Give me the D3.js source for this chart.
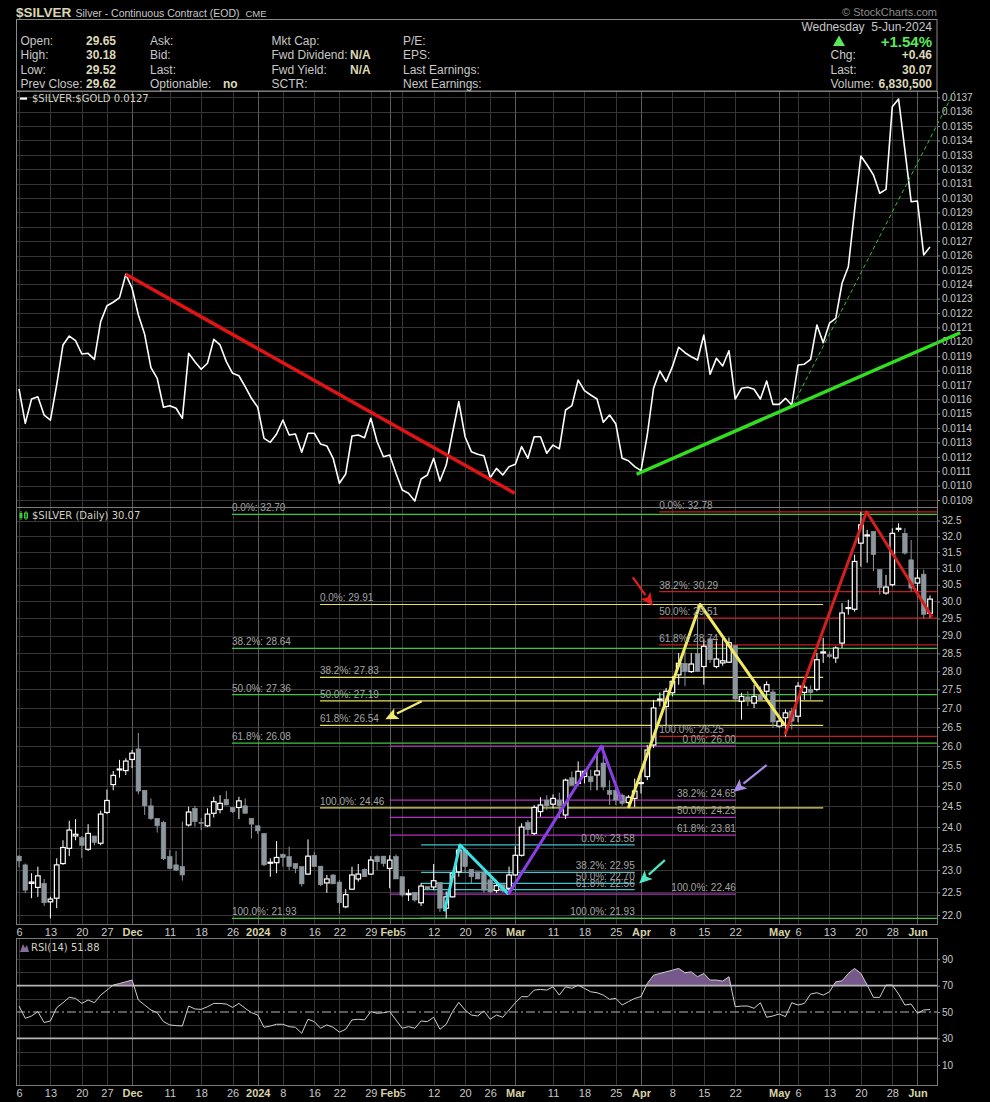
<!DOCTYPE html>
<html>
<head>
<meta charset="utf-8">
<title>$SILVER</title>
<script src="https://cdn.jsdelivr.net/npm/d3@7/dist/d3.min.js"></script>
<style>
  body { margin: 0; background: #000; }
  svg { display: block; }
</style>
</head>
<body>
<svg id="chart" width="990" height="1102"></svg>
<script>
// trading days, Nov 6 2023 .. Jun 5 2024
const monthDays = [
  ["2023-11", [6,7,8,9,10,13,14,15,16,17,20,21,22,24,27,28,29,30]],
  ["2023-12", [1,4,5,6,7,8,11,12,13,14,15,18,19,20,21,22,26,27,28,29]],
  ["2024-01", [2,3,4,5,8,9,10,11,12,16,17,18,19,22,23,24,25,26,29,30,31]],
  ["2024-02", [1,2,5,6,7,8,9,12,13,14,15,16,20,21,22,23,26,27,28,29]],
  ["2024-03", [1,4,5,6,7,8,11,12,13,14,15,18,19,20,21,22,25,26,27,28]],
  ["2024-04", [1,2,3,4,5,8,9,10,11,12,15,16,17,18,19,22,23,24,25,26,29,30]],
  ["2024-05", [1,2,3,6,7,8,9,10,13,14,15,16,17,20,21,22,23,24,28,29,30,31]],
  ["2024-06", [3,4,5]]
];
const dates = monthDays.flatMap(([m, ds]) => ds.map(d => m + "-" + String(d).padStart(2, "0")));

const tickDates = ["2023-11-06","2023-11-13","2023-11-20","2023-11-27","2023-12-01","2023-12-11","2023-12-18","2023-12-26",
  "2024-01-02","2024-01-08","2024-01-16","2024-01-22","2024-01-29","2024-02-01","2024-02-05","2024-02-12","2024-02-20",
  "2024-02-26","2024-03-01","2024-03-11","2024-03-18","2024-03-25","2024-04-01","2024-04-08","2024-04-15","2024-04-22",
  "2024-05-01","2024-05-06","2024-05-13","2024-05-20","2024-05-28","2024-06-03"];
const tickLabels = ["6","13","20","27","Dec","11","18","26","2024","8","16","22","29","Feb","5","12","20","26",
  "Mar","11","18","25","Apr","8","15","22","May","6","13","20","28","Jun"];

// $SILVER:$GOLD ratio
const ratio = [
  0.011672,0.011433,0.011602,0.011618,0.011491,0.011456,0.011700,0.011978,0.012040,0.012008,
  0.011915,0.011920,0.011878,0.012140,0.012251,0.012275,0.012307,0.012469,0.012372,0.012186,
  0.012052,0.011820,0.011746,0.011545,0.011556,0.011538,0.011468,0.011920,0.011862,0.011809,
  0.011851,0.012017,0.011978,0.011862,0.011781,0.011764,0.011688,0.011607,0.011545,0.011329,
  0.011301,0.011359,0.011456,0.011352,0.011359,0.011232,0.011364,0.011364,0.011289,0.011276,
  0.011190,0.011016,0.011081,0.011345,0.011352,0.011333,0.011468,0.011305,0.011201,0.011213,
  0.011086,0.010970,0.010947,0.010893,0.011046,0.011074,0.011190,0.011032,0.011143,0.011366,
  0.011584,0.011340,0.011236,0.011218,0.011208,0.011055,0.011120,0.011074,0.011132,0.011148,
  0.011271,0.011190,0.011340,0.011340,0.011225,0.011282,0.011255,0.011526,0.011556,0.011734,
  0.011660,0.011630,0.011602,0.011440,0.011491,0.011428,0.011190,0.011173,0.011132,0.011104,
  0.011352,0.011677,0.011797,0.011723,0.011827,0.011962,0.011924,0.011896,0.011873,0.012047,
  0.011774,0.011885,0.011832,0.011938,0.011602,0.011677,0.011684,0.011670,0.011602,0.011727,
  0.011565,0.011565,0.011607,0.011561,0.011839,0.011844,0.011878,0.012117,0.011994,0.012129,
  0.012163,0.012407,0.012522,0.012916,0.013292,0.013229,0.013160,0.013033,0.013060,0.013635,
  0.013688,0.013334,0.012974,0.012979,0.012604,0.012660
];

// $SILVER daily OHLC
const open = [
  23.32,23.12,22.70,22.61,22.70,22.29,22.37,23.15,23.50,23.79,
  23.75,23.48,23.79,23.62,24.35,25.03,25.40,25.38,25.66,25.93,
  24.89,24.51,24.21,24.11,23.31,23.12,23.08,24.05,24.45,24.11,
  24.03,24.33,24.42,24.67,24.47,24.47,24.51,24.21,24.03,23.85,
  23.16,23.17,23.36,23.31,23.15,23.08,22.91,23.34,23.09,22.71,
  22.89,22.73,22.18,22.57,22.80,23.02,22.91,23.31,23.32,23.04,
  23.31,22.85,22.45,22.50,22.27,22.63,22.62,22.72,22.15,22.40,
  22.96,23.46,23.02,22.96,22.96,22.78,22.54,22.67,22.59,22.89,
  23.34,24.11,23.85,24.37,24.65,24.55,24.65,24.29,25.20,25.06,
  25.23,25.23,25.27,25.57,24.89,24.89,24.77,24.59,24.69,25.06,
  25.23,26.03,27.22,27.04,27.41,27.90,28.22,27.99,28.49,28.13,
  28.91,28.13,28.23,28.25,28.72,27.18,27.30,27.13,27.36,27.45,
  27.43,26.52,26.74,26.92,26.78,27.42,27.50,27.50,28.51,28.46,
  28.37,28.79,29.79,29.77,31.78,32.01,32.15,30.96,30.25,30.50,
  32.23,32.09,31.26,30.55,30.82,29.65
];
const high = [
  23.34,23.15,22.93,23.08,22.80,22.40,23.27,23.69,24.15,24.19,
  23.79,24.07,23.79,24.39,24.91,25.37,25.65,25.69,25.90,26.34,
  24.89,24.69,24.21,24.15,23.46,23.44,24.13,24.49,24.51,24.21,
  24.45,24.73,24.77,24.87,24.47,24.73,24.69,24.21,24.03,23.85,
  23.27,23.67,23.38,23.54,23.15,23.08,23.71,23.42,23.09,22.89,
  22.91,22.78,22.57,23.08,23.14,23.04,23.32,23.34,23.32,23.34,
  23.36,22.85,22.57,22.50,22.71,22.63,23.14,22.72,22.52,22.96,
  23.58,23.46,23.02,22.96,22.96,22.93,22.78,22.67,23.08,23.55,
  24.09,24.17,24.53,24.72,24.77,24.79,24.83,25.18,25.36,25.61,
  25.40,25.40,25.86,26.00,25.14,24.97,24.81,24.77,25.18,25.27,
  26.03,27.22,27.42,27.54,27.86,28.51,28.55,28.51,29.91,28.89,
  28.91,28.84,28.91,28.95,28.72,27.41,27.45,27.63,27.59,27.72,
  27.50,26.80,26.96,27.01,27.70,27.69,27.61,28.51,28.94,28.55,
  28.70,29.95,30.05,31.42,32.78,32.20,32.15,30.96,30.80,32.25,
  32.41,32.25,31.88,30.96,30.96,30.18
];
const low = [
  23.06,22.48,22.37,22.40,22.20,21.93,22.15,23.12,23.32,23.69,
  23.28,23.44,23.57,23.57,24.31,24.89,25.20,25.27,25.44,24.79,
  24.29,24.17,23.87,23.23,23.02,22.98,22.76,24.01,24.01,23.93,
  24.00,24.23,24.33,24.53,24.34,24.19,24.33,23.73,23.84,23.09,
  22.85,22.93,23.08,23.00,22.93,22.63,22.89,23.08,22.64,22.49,
  22.69,22.04,22.15,22.55,22.74,22.85,22.89,23.00,23.08,22.59,
  22.80,22.40,22.31,22.29,22.20,22.55,22.55,22.07,21.93,22.39,
  22.85,22.96,22.71,22.80,22.49,22.48,22.49,22.50,22.46,22.87,
  23.31,23.81,23.81,24.25,24.41,24.45,24.21,24.19,25.01,25.01,
  25.06,24.89,24.89,24.89,24.53,24.53,24.51,24.46,24.48,24.81,
  25.14,25.95,27.04,26.52,27.31,27.63,27.59,27.95,27.98,27.63,
  28.23,28.08,28.15,28.23,27.22,26.69,27.05,27.00,27.22,27.22,
  26.47,26.48,26.25,26.43,26.62,27.22,27.22,27.45,28.23,28.37,
  28.23,28.65,29.61,29.70,31.05,31.17,30.91,30.20,30.20,30.45,
  32.14,31.42,30.30,30.15,29.51,29.52
];
const close = [
  23.21,22.55,22.73,22.87,22.27,22.35,23.12,23.52,23.93,23.83,
  23.57,23.85,23.64,24.31,24.64,25.26,25.42,25.62,25.82,24.87,
  24.51,24.20,24.03,23.26,23.04,23.00,22.89,24.36,24.13,24.09,
  24.31,24.61,24.57,24.53,24.37,24.63,24.33,24.07,23.91,23.12,
  23.18,23.29,23.29,23.08,23.04,22.69,23.32,23.08,22.67,22.80,
  22.69,22.27,22.45,22.89,22.91,22.85,23.23,23.19,23.15,23.23,
  22.80,22.44,22.47,22.33,22.64,22.57,22.76,22.15,22.40,22.93,
  23.46,23.08,22.85,22.80,22.55,22.51,22.65,22.53,22.89,23.34,
  24.00,23.94,24.47,24.53,24.51,24.69,24.51,25.14,25.01,25.36,
  25.36,25.10,25.37,24.97,24.79,24.65,24.57,24.72,24.87,25.08,
  25.90,27.00,27.24,27.45,27.72,28.22,27.99,28.20,27.99,28.70,
  28.32,28.34,28.29,28.80,27.24,27.31,27.22,27.31,27.22,27.63,
  26.63,26.65,26.87,26.65,27.59,27.56,27.42,28.32,28.54,28.41,
  28.65,29.66,29.82,31.21,32.36,32.04,31.42,30.41,30.43,32.09,
  32.25,31.47,30.40,30.70,29.62,30.07
];

// RSI(14)
const rsi = [
  54.5,45.2,47.0,50.3,42.0,43.2,53.3,57.0,61.1,60.3,
  56.5,59.1,57.0,62.8,66.6,70.4,71.6,72.9,74.2,59.1,
  55.3,51.5,49.5,42.7,40.2,39.7,39.4,54.5,52.3,52.0,
  54.0,56.5,56.5,56.0,53.5,56.5,52.8,49.5,47.7,38.4,
  39.4,40.7,40.7,38.9,38.4,33.9,44.5,42.7,37.7,40.2,
  38.4,34.7,36.9,44.0,44.5,44.0,50.3,49.0,49.5,50.3,
  44.0,37.7,38.9,37.7,43.2,42.7,46.0,36.9,40.7,50.3,
  57.3,51.5,47.7,47.0,50.8,44.5,47.7,46.0,51.5,57.0,
  61.6,61.6,66.6,67.1,66.6,69.1,62.8,69.1,67.9,70.4,
  67.9,65.3,64.6,62.8,59.6,60.3,55.3,57.8,60.3,61.6,
  71.6,77.9,79.2,80.4,81.7,83.0,79.7,80.4,76.7,79.2,
  74.2,74.2,73.4,76.7,54.0,54.5,54.5,52.8,57.0,46.0,
  47.0,48.5,46.5,57.0,55.3,56.5,63.6,64.6,62.8,65.3,
  72.9,73.6,79.2,83.0,79.2,70.4,61.1,61.1,70.4,70.4,
  63.6,55.3,56.0,49.0,51.5,51.88
];

// annotations, [day index, value]
const ratioDownTrend = [[17, 0.012469], [78.9, 0.010947]];
const ratioUpTrend = [[98.3, 0.011079], [149.8, 0.012063]];
const ratioSteepTrend = [[123.2, 0.011561], [148.9, 0.013744]];

const fibPct = ["0.0%", "38.2%", "50.0%", "61.8%", "100.0%"];
const fibGreen = [32.70, 28.64, 27.36, 26.08, 21.93];
const fibYellow = [29.91, 27.83, 27.19, 26.54, 24.46];
const fibMagenta = [26.00, 24.65, 24.23, 23.81, 22.46];
const fibCyan = [23.58, 22.95, 22.70, 22.56, 21.93];
const fibRed = [32.78, 30.29, 29.51, 28.74, 26.25];

const zigCyan = [[67.7, 22.08], [70.2, 23.58], [77.9, 22.46]];
const zigPurple = [[77.9, 22.46], [92.7, 26.00], [95.9, 24.63]];
const zigYellow = [[97.0, 24.46], [108.4, 29.91], [121.9, 26.54]];
const zigRed = [[121.9, 26.30], [134.9, 32.78], [145.3, 29.55]];

const arrowYellow = [[64.1, 27.18], [58.3, 26.70]];
const arrowRed = [[97.7, 30.72], [100.9, 29.87]];
const arrowPurple = [[119.0, 25.52], [113.7, 24.85]];
const arrowCyan = [[102.8, 23.23], [98.7, 22.70]];

// ---------------------------------------------------------------
const FONT = "'Liberation Sans', Arial, sans-serif";
const SMALL = "'DejaVu Sans', Verdana, sans-serif";
const svg = d3.select("#chart");
svg.append("rect").attr("width", 990).attr("height", 1102).attr("fill", "#000");

const L = 16, R = 937;
const topP = [91, 507], priceP = [507, 924], rsiP = [938, 1085];

const x = d3.scaleLinear().domain([0, dates.length - 1]).range([19, 930]);
const yRatio = d3.scaleLinear().domain([0.0109, 0.0137]).range([500, 97.3]);
const yPrice = d3.scaleLog().domain([21.93, 32.70]).range([918.3, 514.3]);
const yRsi = d3.scaleLinear().domain([0, 100]).range([1078, 946]);

const tickIdx = tickDates.map(d => dates.indexOf(d));
const isMonth = t => isNaN(+t) || t === "2024";

function text(g, px, py, s, o = {}) {
  return g.append("text").attr("x", px).attr("y", py).text(s)
    .attr("fill", o.fill || "#c8c8c8")
    .attr("font-size", o.size || 12)
    .attr("font-weight", o.bold ? "bold" : null)
    .attr("font-family", o.family || FONT)
    .attr("text-anchor", o.anchor || "start");
}

// ---------- header ----------
const hdr = svg.append("g");
const t1 = text(hdr, 16, 17, "$SILVER", {bold: true, size: 13.5, fill: "#dad6b6"});
const t2 = text(hdr, t1.node().getBBox().x + t1.node().getBBox().width + 4, 16.5,
  "Silver - Continuous Contract (EOD)", {size: 10.5});
text(hdr, t2.node().getBBox().x + t2.node().getBBox().width + 6, 16.5, "CME", {size: 9.5});
text(hdr, 937, 16, "\u00a9 StockCharts.com", {size: 11, fill: "#8c8c8c", anchor: "end"});
hdr.append("rect").attr("x", 16.5).attr("y", 19.5).attr("width", 920.5).attr("height", 71.5)
  .attr("fill", "none").attr("stroke", "#8a8a8a");

const rowY = [45, 59, 73.5, 88];
const col1 = ["Open:", "High:", "Low:", "Prev Close:"];
const col1v = ["29.65", "30.18", "29.52", "29.62"];
const col2 = ["Ask:", "Bid:", "Last:", "Optionable:"];
const col3 = ["Mkt Cap:", "Fwd Dividend:", "Fwd Yield:", "SCTR:"];
const col4 = ["P/E:", "EPS:", "Last Earnings:", "Next Earnings:"];
const VAL = "#dcd8b8";
rowY.forEach((ry, k) => {
  text(hdr, 20.5, ry, col1[k]);
  text(hdr, 116, ry, col1v[k], {bold: true, fill: VAL, anchor: "end"});
  text(hdr, 150, ry, col2[k]);
  text(hdr, 271.5, ry, col3[k]);
  text(hdr, 403, ry, col4[k]);
});
text(hdr, 223, rowY[3], "no", {bold: true, fill: VAL});
text(hdr, 350, rowY[1], "N/A", {bold: true, fill: VAL});
text(hdr, 350, rowY[2], "N/A", {bold: true, fill: VAL});

text(hdr, 932, 31, "Wednesday\u00a0 5-Jun-2024", {anchor: "end"});
hdr.append("polygon").attr("points", "833,46 845,46 839,35.5").attr("fill", "#5ce65c");
text(hdr, 932, 46.5, "+1.54%", {bold: true, size: 15, fill: "#5ce65c", anchor: "end"});
text(hdr, 830.5, 59, "Chg:");
text(hdr, 932, 59, "+0.46", {bold: true, fill: VAL, anchor: "end"});
text(hdr, 830.5, 73.5, "Last:");
text(hdr, 932, 73.5, "30.07", {bold: true, fill: VAL, anchor: "end"});
text(hdr, 830.5, 88, "Volume:");
text(hdr, 932, 88, "6,830,500", {bold: true, fill: VAL, anchor: "end"});

// ---------- grids ----------
function grid(p, yVals, yScale) {
  const g = svg.append("g");
  g.selectAll("line.h").data(yVals).join("line").attr("class", "h")
    .attr("x1", L).attr("x2", R)
    .attr("y1", d => Math.round(yScale(d)) + 0.5).attr("y2", d => Math.round(yScale(d)) + 0.5)
    .attr("stroke", "#353535");
  g.selectAll("line.v").data(tickIdx).join("line").attr("class", "v")
    .attr("x1", d => Math.round(x(d)) + 0.5).attr("x2", d => Math.round(x(d)) + 0.5)
    .attr("y1", p[0]).attr("y2", p[1])
    .attr("stroke", (d, k) => isMonth(tickLabels[k]) ? "#5c5c5c" : "#353535");
}
const ratioTicks = d3.range(109, 138).map(v => v / 10000);
const priceTicks = d3.range(44, 66).map(v => v / 2);
grid(topP, ratioTicks, yRatio);
grid(priceP, priceTicks, yPrice);
grid(rsiP, [10, 20, 40, 60, 80, 90], yRsi);

// right axes
function rightAxis(scale, vals, fmt) {
  svg.append("g").attr("transform", `translate(${R},0)`)
    .call(d3.axisRight(scale).tickValues(vals).tickFormat(fmt).tickSize(3).tickPadding(2))
    .call(g => g.select(".domain").remove())
    .call(g => g.selectAll("line").attr("stroke", "#8a8a8a"))
    .call(g => g.selectAll("text").attr("fill", "#c8c8c8")
      .attr("font-family", FONT).attr("font-size", 10));
}
rightAxis(yRatio, ratioTicks, d3.format(".4f"));
rightAxis(yPrice, priceTicks, d3.format(".1f"));
rightAxis(yRsi, [10, 30, 50, 70, 90], d3.format("d"));

// bottom date axes
function dateAxis(py) {
  svg.append("g").attr("transform", `translate(0,${py})`)
    .call(d3.axisBottom(x).tickValues(tickIdx).tickFormat((d, k) => tickLabels[k]).tickSize(0).tickPadding(4))
    .call(g => g.select(".domain").remove())
    .call(g => g.selectAll("text")
      .attr("font-family", FONT).attr("font-size", 11)
      .attr("font-weight", (d, k) => isMonth(tickLabels[k]) ? "bold" : null)
      .attr("fill", (d, k) => isMonth(tickLabels[k]) ? "#d8d3a8" : "#c8c8c8"));
}
dateAxis(priceP[1]);
dateAxis(rsiP[1]);

// ---------- top panel: ratio ----------
svg.append("path").datum(ratio)
  .attr("d", d3.line().x((d, k) => x(k)).y(d => yRatio(d)))
  .attr("fill", "none").attr("stroke", "#fff").attr("stroke-width", 1.6)
  .attr("stroke-linejoin", "round");

const lineR = d3.line().x(d => x(d[0])).y(d => yRatio(d[1]));
svg.append("path").attr("d", lineR(ratioDownTrend)).attr("stroke", "#e01414").attr("stroke-width", 3.5).attr("fill", "none");
svg.append("path").attr("d", lineR(ratioUpTrend)).attr("stroke", "#33dd22").attr("stroke-width", 3.5).attr("fill", "none");
svg.append("path").attr("d", lineR(ratioSteepTrend)).attr("stroke", "#2fc42f").attr("stroke-width", 1)
  .attr("stroke-dasharray", "4,3").attr("fill", "none");

// ---------- price panel ----------
const FIBLBL = "#a4a4a4";
function fib(levels, i0, i1, color, anchor) {
  const g = svg.append("g");
  g.selectAll("line").data(levels).join("line")
    .attr("x1", x(i0)).attr("x2", x(i1))
    .attr("y1", d => yPrice(d)).attr("y2", d => yPrice(d))
    .attr("stroke", color).attr("stroke-width", 1.2);
  return levels.map((v, k) => ({v, k, px: anchor === "end" ? x(i1) : x(i0), anchor}));
}
// drawn so the long green set stays on top where levels coincide
const fibLabels = [].concat(
  fib(fibCyan, 64, 98, "#3fc4d0", "end"),
  fib(fibMagenta, 59, 114.1, "#b52fc0", "end"),
  fib(fibYellow, 47.9, 128, "#e6e060", "start"),
  fib(fibRed, 101.9, 146.1, "#c41e1e", "start"),
  fib(fibGreen, 33.9, 146.1, "#3ec63e", "start")
);

// candles
const cw = 4.6;
const cg = svg.append("g");
dates.forEach((d, k) => {
  const up = close[k] >= open[k];
  const col = up ? "#ffffff" : "#8c969c";
  cg.append("line")
    .attr("x1", x(k)).attr("x2", x(k))
    .attr("y1", yPrice(high[k])).attr("y2", yPrice(low[k]))
    .attr("stroke", col).attr("stroke-width", 1);
  const yt = yPrice(Math.max(open[k], close[k])), yb = yPrice(Math.min(open[k], close[k]));
  cg.append("rect")
    .attr("x", x(k) - cw / 2).attr("y", yt)
    .attr("width", cw).attr("height", Math.max(1, yb - yt))
    .attr("fill", up ? "#000" : col)
    .attr("stroke", col).attr("stroke-width", up ? 1.2 : 0.6);
});

// zigzags
const lineP = d3.line().x(d => x(d[0])).y(d => yPrice(d[1]));
[[zigCyan, "#3ee0e6"], [zigPurple, "#8a3ee6"], [zigYellow, "#f2ea62"], [zigRed, "#d41f1f"]].forEach(([pts, c]) => {
  svg.append("path").attr("d", lineP(pts)).attr("fill", "none")
    .attr("stroke", c).attr("stroke-width", 3).attr("stroke-linejoin", "round");
});

// fib labels
fibLabels.forEach(f => {
  text(svg, f.px, yPrice(f.v) - 3, `${fibPct[f.k]}: ${f.v.toFixed(2)}`,
    {size: 10, fill: FIBLBL, anchor: f.anchor});
});

// arrows
function arrow(pts, c) {
  const x0 = x(pts[0][0]), y0 = yPrice(pts[0][1]);
  const x1 = x(pts[1][0]), y1 = yPrice(pts[1][1]);
  const a = Math.atan2(y1 - y0, x1 - x0);
  const len = 13, half = 6;
  const bx = x1 - len * Math.cos(a), by = y1 - len * Math.sin(a);
  svg.append("line").attr("x1", x0).attr("y1", y0).attr("x2", bx).attr("y2", by)
    .attr("stroke", c).attr("stroke-width", 2.2);
  const pxs = [
    [x1, y1],
    [bx + half * Math.sin(a), by - half * Math.cos(a)],
    [bx + 3 * Math.cos(a), by + 3 * Math.sin(a)],
    [bx - half * Math.sin(a), by + half * Math.cos(a)]
  ];
  svg.append("polygon").attr("points", pxs.map(p => p.join(",")).join(" ")).attr("fill", c);
}
arrow(arrowYellow, "#f2ea70");
arrow(arrowRed, "#e81c1c");
arrow(arrowPurple, "#a98ae8");
arrow(arrowCyan, "#4fe8c4");

// ---------- RSI panel ----------
svg.append("clipPath").attr("id", "above70").append("rect")
  .attr("x", L).attr("y", rsiP[0]).attr("width", R - L).attr("height", yRsi(70) - rsiP[0]);
svg.append("path").datum(rsi).attr("clip-path", "url(#above70)")
  .attr("d", d3.area().x((d, k) => x(k)).y0(yRsi(70)).y1(d => yRsi(d)))
  .attr("fill", "#76588a");
[70, 30].forEach(v => {
  svg.append("line").attr("x1", L).attr("x2", R).attr("y1", yRsi(v)).attr("y2", yRsi(v))
    .attr("stroke", "#b4b4b4").attr("stroke-width", 1.6);
});
svg.append("line").attr("x1", L).attr("x2", R).attr("y1", yRsi(50)).attr("y2", yRsi(50))
  .attr("stroke", "#b4b4b4").attr("stroke-width", 1).attr("stroke-dasharray", "9,3,2,3");
svg.append("path").datum(rsi)
  .attr("d", d3.line().x((d, k) => x(k)).y(d => yRsi(d)))
  .attr("fill", "none").attr("stroke", "#cfcfcf").attr("stroke-width", 1);

// ---------- panel borders & labels ----------
[topP, priceP, rsiP].forEach(p => {
  svg.append("rect").attr("x", L + 0.5).attr("y", p[0] + 0.5)
    .attr("width", R - L).attr("height", p[1] - p[0])
    .attr("fill", "none").attr("stroke", "#7a7a7a");
});

const LBL = "#d2d2c2";
svg.append("rect").attr("x", 20).attr("y", 97.5).attr("width", 7).attr("height", 2.2).attr("fill", "#fff");
text(svg, 32, 102, "$SILVER:$GOLD 0.0127", {family: SMALL, size: 10, fill: LBL});

const icon = svg.append("g").attr("transform", "translate(19,511)");
icon.append("line").attr("x1", 2).attr("x2", 2).attr("y1", 0).attr("y2", 9).attr("stroke", "#3ec63e");
icon.append("rect").attr("x", 0.5).attr("y", 2).attr("width", 3).attr("height", 5).attr("fill", "#3ec63e");
icon.append("line").attr("x1", 7).attr("x2", 7).attr("y1", 0).attr("y2", 9).attr("stroke", "#3ec63e");
icon.append("rect").attr("x", 5.5).attr("y", 2).attr("width", 3).attr("height", 5).attr("fill", "none").attr("stroke", "#3ec63e");
text(svg, 32, 519, "$SILVER (Daily) 30.07", {family: SMALL, size: 10, fill: LBL});

svg.append("path").attr("d", "M20,952 L23,944 L25,948 L27,945 L29,952 Z").attr("fill", "#8a6a9a");
text(svg, 31, 951, "RSI(14) 51.88", {family: SMALL, size: 10, fill: LBL});
</script>
</body>
</html>
